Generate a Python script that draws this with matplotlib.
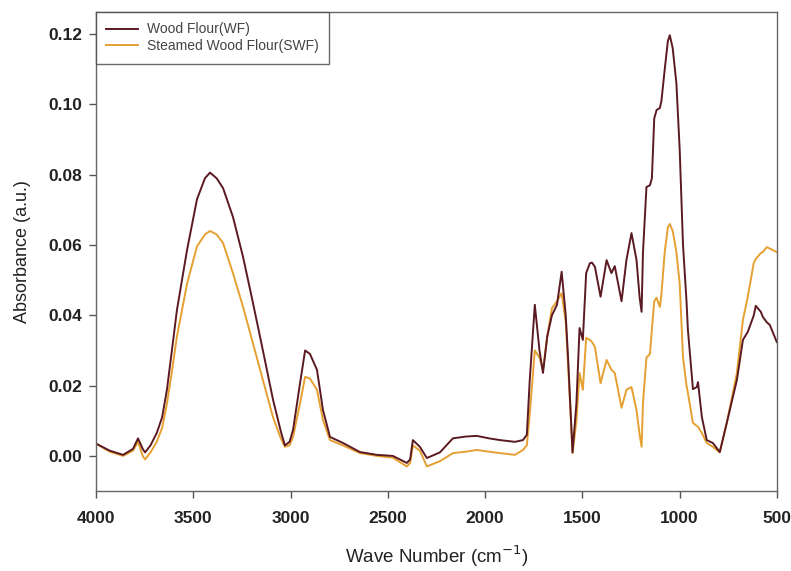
import numpy as np
import matplotlib
matplotlib.use("Agg")
import matplotlib.pyplot as plt

# FTIR spectra
wavenumber = np.array([
    4000, 3930, 3861, 3810, 3784, 3760, 3748, 3720, 3688, 3660, 3635, 3610,
    3584, 3532, 3481, 3440, 3414, 3380, 3347, 3296, 3244, 3193, 3142, 3090,
    3050, 3029, 3005, 2987, 2951, 2925, 2900, 2864, 2833, 2797, 2731, 2643,
    2556, 2474, 2402, 2385, 2371, 2335, 2299, 2232, 2165, 2100, 2042, 1980,
    1923, 1846, 1805, 1785, 1770, 1744, 1720, 1702, 1680, 1656, 1630, 1606,
    1585, 1573, 1550, 1530, 1514, 1497, 1480, 1461, 1450, 1435, 1406, 1375,
    1350, 1333, 1298, 1273, 1247, 1221, 1205, 1195, 1188, 1170, 1152, 1142,
    1130, 1118, 1101, 1093, 1076, 1060, 1050, 1035, 1016, 999, 982, 964,
    957, 931, 911, 905, 885, 860, 829, 793, 757, 705, 674, 649,
    618, 608, 582, 572, 551, 536, 500])

wf = np.array([
    0.0035, 0.0015, 0.0003, 0.0020, 0.0050, 0.0020, 0.0010, 0.0030, 0.0065, 0.0110, 0.0190, 0.0300,
    0.0415, 0.0586, 0.0730, 0.0790, 0.0806, 0.0790, 0.0762, 0.0680, 0.0566, 0.0435, 0.0300, 0.0160,
    0.0070, 0.0030, 0.0040, 0.0074, 0.0207, 0.0300, 0.0290, 0.0245, 0.0130, 0.0054, 0.0037, 0.0011,
    0.0003, 0.0000, -0.0020, -0.0010, 0.0045, 0.0026, -0.0006, 0.0010, 0.0050, 0.0055, 0.0057, 0.0050,
    0.0045, 0.0040, 0.0045, 0.0060, 0.0216, 0.0430, 0.0300, 0.0236, 0.0340, 0.0400, 0.0430, 0.0524,
    0.0400, 0.0280, 0.0010, 0.0150, 0.0364, 0.0330, 0.0520, 0.0548, 0.0550, 0.0538, 0.0453, 0.0557,
    0.0520, 0.0540, 0.0440, 0.0557, 0.0634, 0.0557, 0.0450, 0.0410, 0.0577, 0.0765, 0.0770, 0.0790,
    0.0960, 0.0984, 0.0990, 0.1010, 0.1100, 0.1180, 0.1197, 0.1160, 0.1060, 0.0870, 0.0600, 0.0440,
    0.0360, 0.0190, 0.0196, 0.0210, 0.0110, 0.0045, 0.0037, 0.0011, 0.0094, 0.0216, 0.0330, 0.0353,
    0.0400, 0.0427, 0.0410, 0.0396, 0.0380, 0.0373, 0.0324])

swf = np.array([
    0.0035, 0.0012, 0.0000, 0.0015, 0.0040, 0.0000, -0.0010, 0.0010, 0.0040, 0.0080, 0.0150, 0.0240,
    0.0340, 0.0490, 0.0596, 0.0630, 0.0640, 0.0630, 0.0606, 0.0520, 0.0424, 0.0320, 0.0216, 0.0110,
    0.0050, 0.0026, 0.0030, 0.0054, 0.0150, 0.0225, 0.0220, 0.0188, 0.0102, 0.0045, 0.0030, 0.0008,
    0.0000, -0.0005, -0.0030, -0.0020, 0.0030, 0.0015, -0.0030, -0.0015, 0.0008, 0.0012, 0.0017, 0.0012,
    0.0008, 0.0003, 0.0017, 0.0030, 0.0120, 0.0300, 0.0280, 0.0245, 0.0340, 0.0420, 0.0440, 0.0463,
    0.0380, 0.0260, 0.0008, 0.0100, 0.0236, 0.0188, 0.0336, 0.0330, 0.0324, 0.0310, 0.0207, 0.0273,
    0.0245, 0.0236, 0.0137, 0.0188, 0.0196, 0.0130, 0.0060, 0.0026, 0.0150, 0.0280, 0.0290, 0.0360,
    0.0440, 0.0450, 0.0424, 0.0460, 0.0580, 0.0650, 0.0660, 0.0640, 0.0580, 0.0490, 0.0280, 0.0200,
    0.0180, 0.0094, 0.0085, 0.0083, 0.0065, 0.0037, 0.0026, 0.0010, 0.0094, 0.0236, 0.0387, 0.0453,
    0.0550, 0.0560, 0.0577, 0.0580, 0.0594, 0.0590, 0.0580])

xticks = [4000, 3500, 3000, 2500, 2000, 1500, 1000, 500]
yticks = [0.00, 0.02, 0.04, 0.06, 0.08, 0.10, 0.12]

plt.rcParams['font.family'] = ['Liberation Sans', 'DejaVu Sans']

fig = plt.figure(figsize=(7.91, 5.71), dpi=100)
ax = fig.add_axes([0.1214, 0.140, 0.8606, 0.839])

l2, = ax.plot(wavenumber, swf, color='#e5a031', lw=1.4, label='Steamed Wood Flour(SWF)')
l1, = ax.plot(wavenumber, wf, color='#5b1a22', lw=1.4, label='Wood Flour(WF)')

ax.set_xlim(4000, 500)
ax.set_ylim(-0.01, 0.1263)
ax.set_xticks(xticks)
ax.set_yticks(yticks)
ax.set_yticklabels(['%.2f' % v for v in yticks])
ax.tick_params(direction='out', length=5, width=1, color='#555555',
               labelsize=12.5, top=False, right=False, labelcolor='#222222')
ax.tick_params(axis='x', pad=9)
ax.tick_params(axis='y', pad=5)
for lab in ax.get_xticklabels() + ax.get_yticklabels():
    lab.set_fontweight('bold')
for s in ax.spines.values():
    s.set_color('#666666')
    s.set_linewidth(1)

ax.set_xlabel('Wave Number (cm$^{-1}$)', fontsize=13.5, labelpad=13, color='#222222')
ax.set_ylabel('Absorbance (a.u.)', fontsize=13, labelpad=12, color='#222222')

leg = ax.legend(handles=[l1, l2], loc='upper left', bbox_to_anchor=(0, 1),
                borderaxespad=0, fontsize=10, frameon=True, fancybox=False,
                handlelength=2.3, handletextpad=0.6, borderpad=0.75,
                labelspacing=0.2)
leg.get_frame().set_edgecolor('#444444')
leg.get_frame().set_linewidth(1)
for t in leg.get_texts():
    t.set_color('#444444')

fig.savefig('out.png', dpi=100)
